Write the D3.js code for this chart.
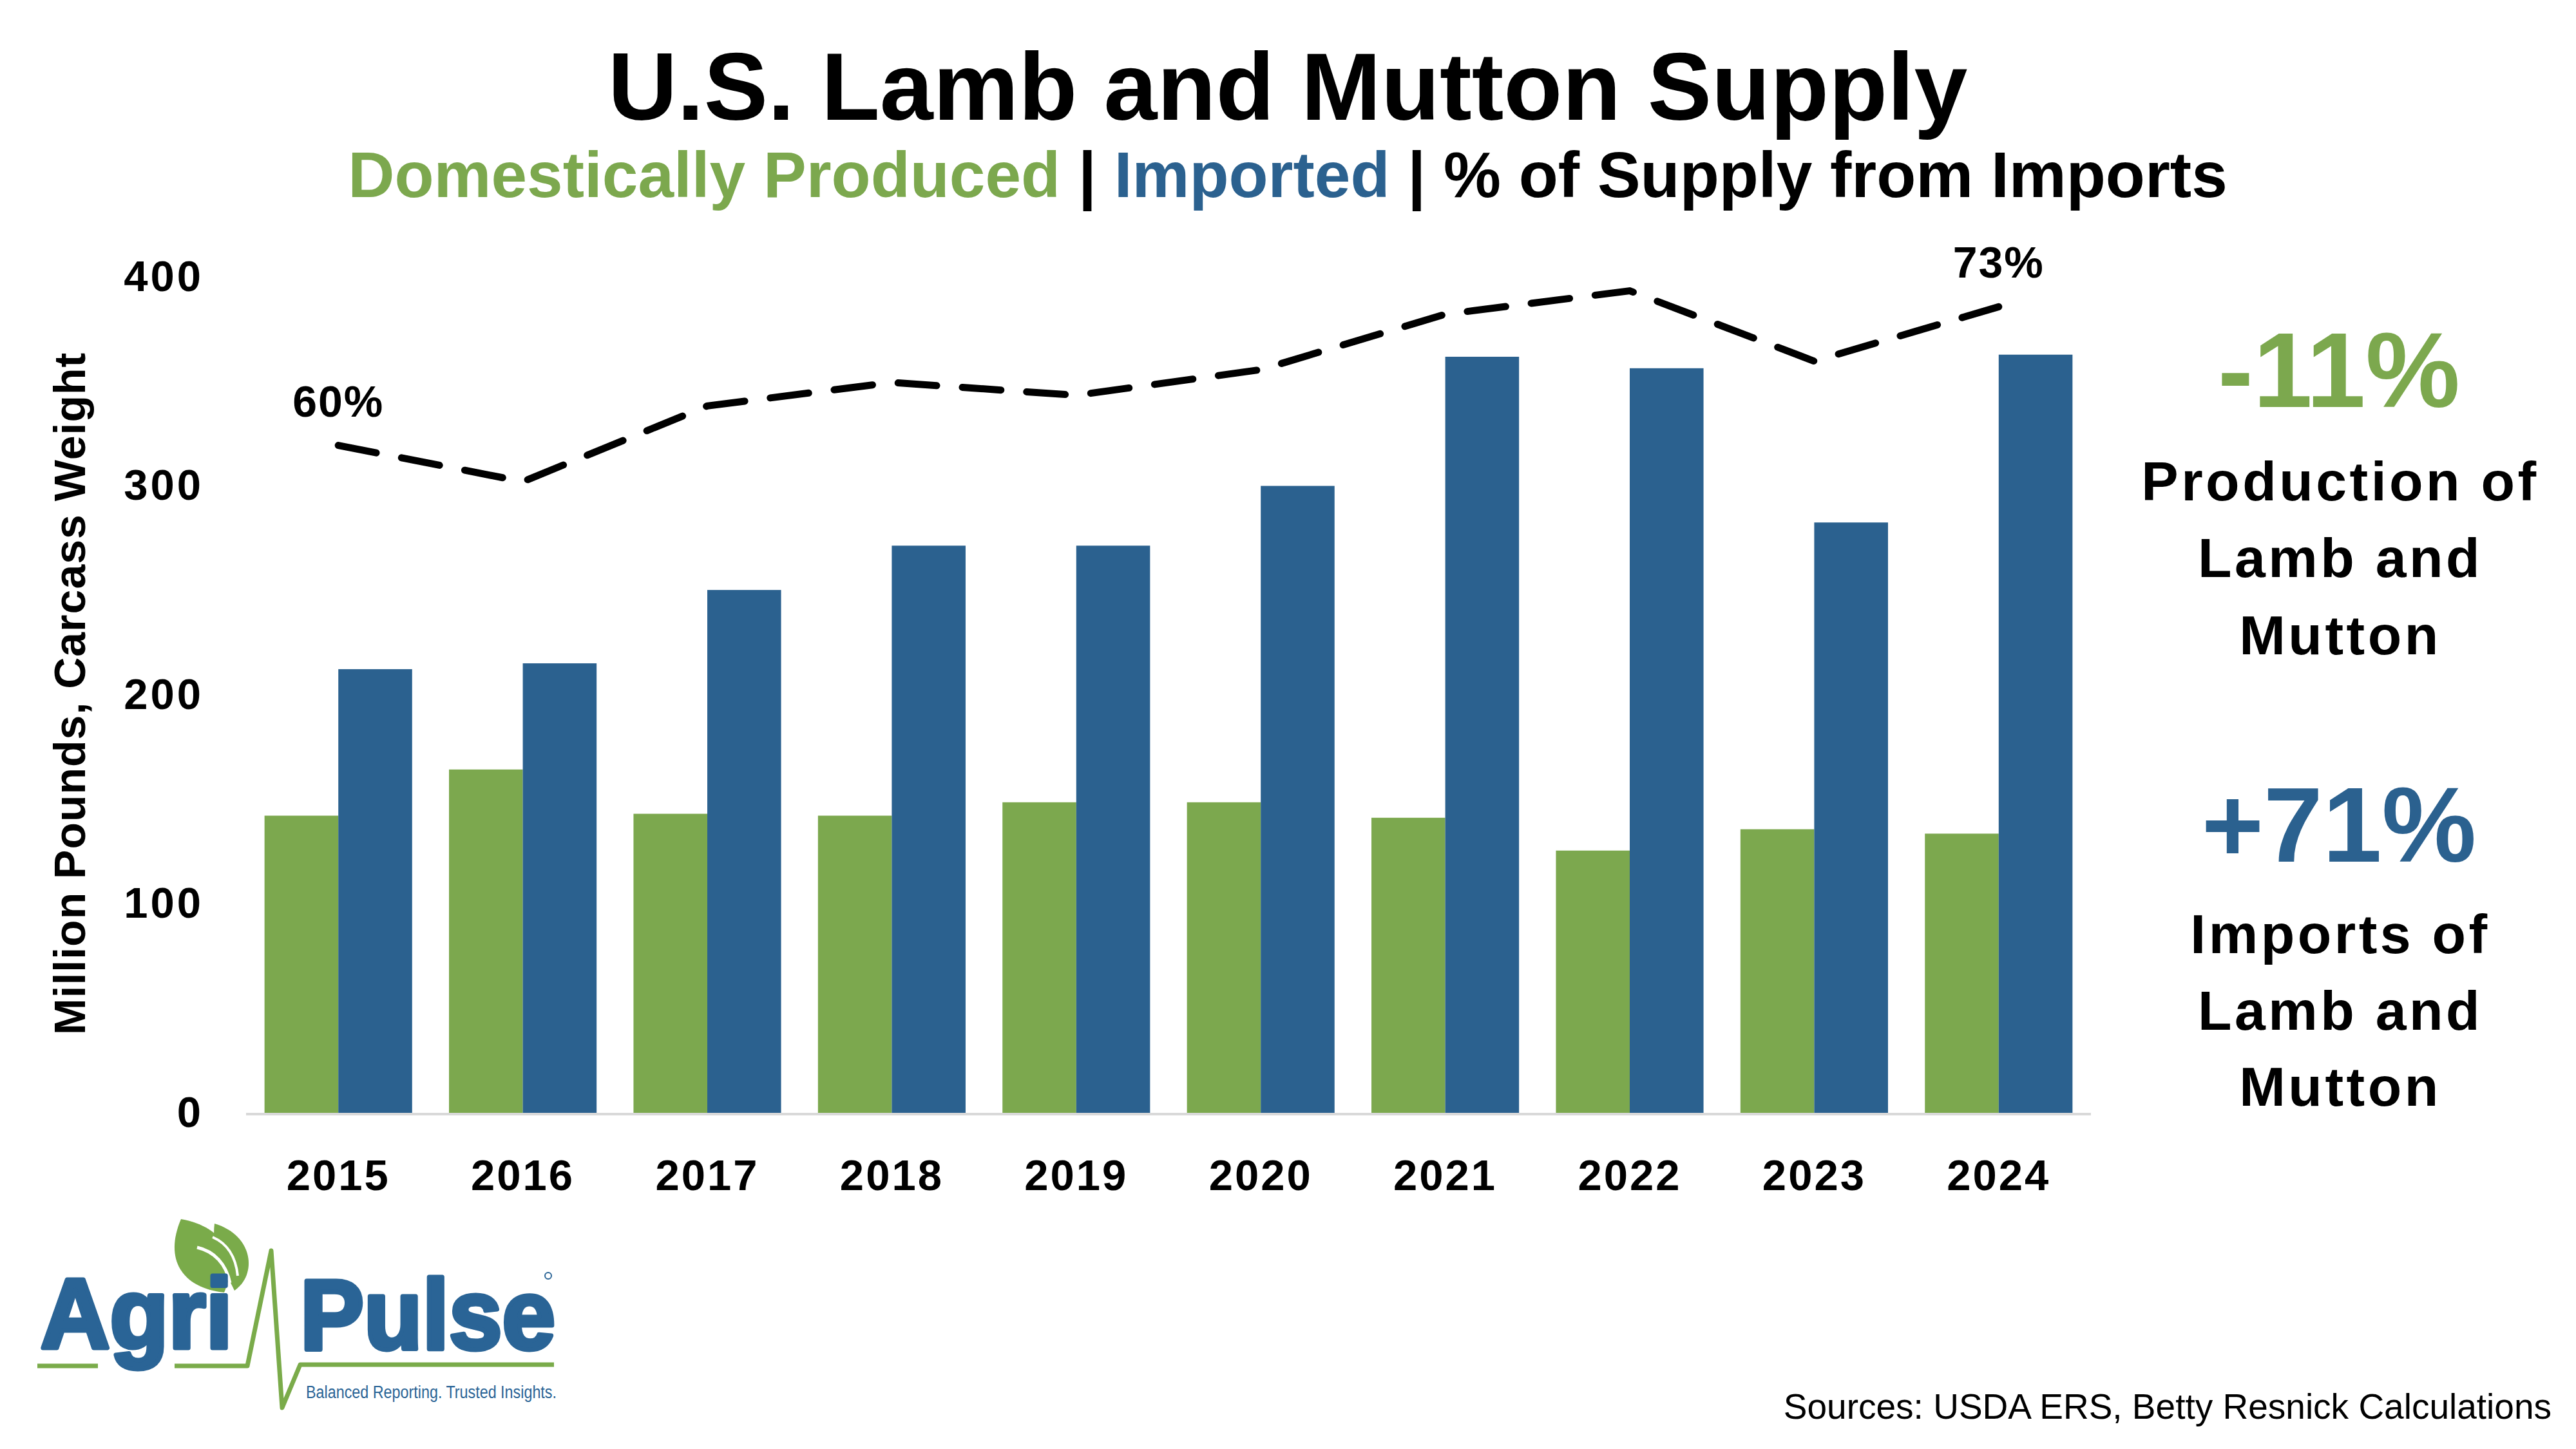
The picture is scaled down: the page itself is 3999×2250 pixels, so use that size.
<!DOCTYPE html>
<meta charset="utf-8">
<style>
  body { margin: 0; background: #fff; }
  svg text { font-family: "Liberation Sans", Arial, sans-serif; }
  .axis path, .axis line { display: none; }
</style>
<svg width="3999" height="2250"></svg>
<script src="https://cdnjs.cloudflare.com/ajax/libs/d3/7.8.5/d3.min.js"></script>
<script>
  // data
  var years = ["2015", "2016", "2017", "2018", "2019", "2020", "2021", "2022", "2023", "2024"];
  var domestic = [142.2, 164.3, 143.1, 142.2, 148.6, 148.6, 141.2, 125.5, 135.7, 133.6];
  var imported = [212.3, 215.1, 250.2, 271.4, 271.4, 300.0, 361.8, 356.3, 282.5, 362.8];
  var importShare = [60, 56.6, 63.7, 65.9, 64.7, 67.1, 72.3, 74.5, 67.9, 73];
  var yTicks = [0, 100, 200, 300, 400];
  var shareAxis = [-2.6, 75.8]; // hidden secondary axis

  var green = "#7ca84e",
    blue = "#2b618f",
    logoBlue = "#2a6496",
    logoGreen = "#7aab4a";

  var svg = d3.select("svg"),
    margin = { top: 430, right: 753, bottom: 522, left: 382 },
    width = +svg.attr("width") - margin.left - margin.right,
    height = +svg.attr("height") - margin.top - margin.bottom,
    g = svg.append("g").attr("transform", "translate(" + margin.left + "," + margin.top + ")");

  var x = d3.scaleBand().domain(years).range([0, width]).paddingInner(0.2).paddingOuter(0.1);
  var x1 = d3.scaleBand().domain(["domestic", "imported"]).range([0, x.bandwidth()]);
  var y = d3.scaleLinear().domain([0, 400]).range([height, 0]);
  var y2 = d3.scaleLinear().domain(shareAxis).range([height, 0]);

  var rows = years.map(function(yr, i) {
    return { year: yr, domestic: domestic[i], imported: imported[i], share: importShare[i] };
  });

  // bars
  var groups = g.selectAll(".year")
    .data(rows)
    .enter().append("g")
    .attr("class", "year")
    .attr("transform", function(d) { return "translate(" + x(d.year) + ",0)"; });

  groups.selectAll("rect")
    .data(function(d) { return [{ key: "domestic", v: d.domestic }, { key: "imported", v: d.imported }]; })
    .enter().append("rect")
    .attr("x", function(d) { return x1(d.key); })
    .attr("y", function(d) { return y(d.v); })
    .attr("width", x1.bandwidth())
    .attr("height", function(d) { return height - y(d.v); })
    .attr("fill", function(d) { return d.key === "domestic" ? green : blue; });

  // baseline
  g.append("line")
    .attr("x1", 0).attr("x2", width)
    .attr("y1", y(0) + 2).attr("y2", y(0) + 2)
    .attr("stroke", "#d9d9d9")
    .attr("stroke-width", 4);

  // axes
  g.append("g")
    .attr("class", "axis axis--y")
    .call(d3.axisLeft(y).tickValues(yTicks).tickSize(0).tickPadding(66))
    .selectAll("text")
    .attr("font-family", "Liberation Sans, Arial, sans-serif")
    .attr("font-size", 67)
    .attr("font-weight", "bold")
    .attr("letter-spacing", 4)
    .attr("fill", "#000");

  g.append("g")
    .attr("class", "axis axis--x")
    .attr("transform", "translate(0," + height + ")")
    .call(d3.axisBottom(x).tickSize(0).tickPadding(72))
    .selectAll("text")
    .attr("font-family", "Liberation Sans, Arial, sans-serif")
    .attr("font-size", 67)
    .attr("font-weight", "bold")
    .attr("letter-spacing", 3)
    .attr("fill", "#000");

  svg.append("text")
    .attr("transform", "translate(132," + (margin.top + y(200) - 2) + ") rotate(-90)")
    .attr("text-anchor", "middle")
    .attr("font-size", 68)
    .attr("font-weight", "bold")
    .attr("letter-spacing", 1)
    .text("Million Pounds, Carcass Weight");

  // import share line
  var line = d3.line()
    .x(function(d) { return x(d.year) + x.bandwidth() / 2; })
    .y(function(d) { return y2(d.share); });

  g.append("path")
    .datum(rows)
    .attr("d", line)
    .attr("fill", "none")
    .attr("stroke", "#000")
    .attr("stroke-width", 11)
    .attr("stroke-linecap", "round")
    .attr("stroke-dasharray", "60,40");

  g.selectAll(".share-label")
    .data([rows[0], rows[rows.length - 1]])
    .enter().append("text")
    .attr("class", "share-label")
    .attr("x", function(d) { return x(d.year) + x.bandwidth() / 2; })
    .attr("y", function(d) { return y2(d.share) - 45; })
    .attr("text-anchor", "middle")
    .attr("font-size", 68)
    .attr("font-weight", "bold")
    .attr("letter-spacing", 2)
    .text(function(d) { return Math.round(d.share) + "%"; });

  // titles
  svg.append("text")
    .attr("x", 1999).attr("y", 186)
    .attr("text-anchor", "middle")
    .attr("font-size", 149)
    .attr("font-weight", "bold")
    .text("U.S. Lamb and Mutton Supply");

  var sub = svg.append("text")
    .attr("x", 1999).attr("y", 306)
    .attr("text-anchor", "middle")
    .attr("font-size", 100)
    .attr("font-weight", "bold");
  sub.append("tspan").attr("fill", green).text("Domestically Produced");
  sub.append("tspan").attr("fill", "#000").text(" | ");
  sub.append("tspan").attr("fill", blue).text("Imported");
  sub.append("tspan").attr("fill", "#000").text(" | % of Supply from Imports");

  // right side callouts
  var notes = svg.append("g").attr("text-anchor", "middle").attr("font-weight", "bold");
  notes.append("text").attr("x", 3631).attr("y", 632)
    .attr("font-size", 165).attr("fill", green).text("-11%");
  notes.append("text").attr("x", 3631).attr("y", 1338)
    .attr("font-size", 165).attr("fill", blue).text("+71%");
  var noteLines = [["Production of", 777], ["Lamb and", 896], ["Mutton", 1016],
                   ["Imports of", 1480], ["Lamb and", 1599], ["Mutton", 1717]];
  noteLines.forEach(function(n) {
    notes.append("text").attr("x", 3633).attr("y", n[1])
      .attr("font-size", 86).attr("letter-spacing", 4.5).attr("fill", "#000").text(n[0]);
  });

  svg.append("text")
    .attr("x", 3961).attr("y", 2203)
    .attr("text-anchor", "end")
    .attr("font-size", 55)
    .text("Sources: USDA ERS, Betty Resnick Calculations");

  // Agri-Pulse logo
  var logo = svg.append("g");
  logo.append("path")
    .attr("d", "M333,1900 C394,1918 400,1980 364,2004 C346,1966 328,1940 333,1900 Z")
    .attr("fill", logoGreen);
  logo.append("path")
    .attr("d", "M281,1893 C254,1956 283,2000 348,2007 C370,1955 352,1906 281,1893 Z")
    .attr("fill", logoGreen);
  logo.append("path")
    .attr("d", "M306,1937 C333,1943 351,1963 357,1992")
    .attr("fill", "none").attr("stroke", "#fff").attr("stroke-width", 5);
  logo.append("path")
    .attr("d", "M330,1921 C353,1931 366,1952 369,1981")
    .attr("fill", "none").attr("stroke", "#fff").attr("stroke-width", 4);

  logo.selectAll(".logo-word")
    .data([["Agri", 63, 2093, 298], ["Pulse", 466, 2095, 396]])
    .enter().append("text")
    .attr("class", "logo-word")
    .attr("x", function(d) { return d[1]; })
    .attr("y", function(d) { return d[2]; })
    .attr("font-family", "DejaVu Sans, sans-serif")
    .attr("font-weight", "bold")
    .attr("font-size", 154)
    .attr("textLength", function(d) { return d[3]; })
    .attr("lengthAdjust", "spacingAndGlyphs")
    .attr("fill", logoBlue)
    .attr("stroke", logoBlue)
    .attr("stroke-width", 7)
    .attr("stroke-linejoin", "round")
    .text(function(d) { return d[0]; });

  logo.append("path")
    .attr("d", "M58,2121 H152 M271,2121 H384 L421,1942 L438,2186 L466,2119 H860")
    .attr("fill", "none").attr("stroke", logoGreen).attr("stroke-width", 7)
    .attr("stroke-linejoin", "round");
  logo.append("circle")
    .attr("cx", 851).attr("cy", 1981).attr("r", 5)
    .attr("fill", "none").attr("stroke", logoBlue).attr("stroke-width", 2);
  logo.append("text")
    .attr("x", 475).attr("y", 2171)
    .attr("font-family", "Liberation Sans Narrow, Liberation Sans, sans-serif")
    .attr("font-size", 27)
    .attr("textLength", 389)
    .attr("lengthAdjust", "spacingAndGlyphs")
    .attr("fill", logoBlue)
    .text("Balanced Reporting. Trusted Insights.");
</script>
